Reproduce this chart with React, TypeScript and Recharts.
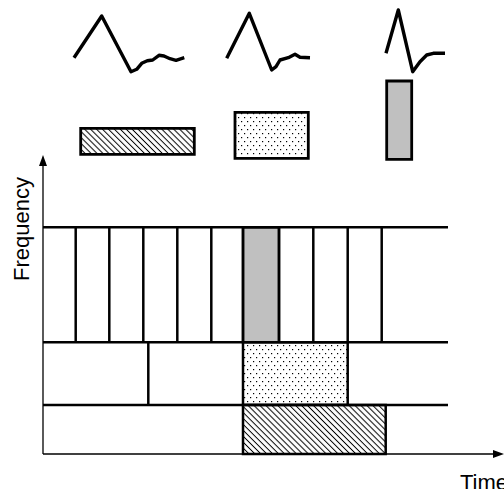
import React from "react";
import {
  ComposedChart,
  XAxis,
  YAxis,
  Line,
  ReferenceArea,
  ReferenceLine,
  ReferenceDot,
} from "recharts";

// Time / frequency units (1 unit ~ 1px), origin at the axes' corner
const timeDomain = [-43, 461];
const freqDomain = [-35, 454];

const axisTimeEnd = 461;
const axisFreqEnd = 299;

const bandLevels = [49, 111.7, 226.7];
const bandTimeEnd = 405;

const topBandEdges = [32.7, 66.3, 100.3, 134.3, 168.3, 200, 236, 270.3, 304.7, 338.7];
const midBandEdges = [105.3];

const tiles = [
  { t1: 200, t2: 236, f1: 111.7, f2: 226.7, fill: "#c0c0c0" },
  { t1: 200, t2: 304.7, f1: 49, f2: 111.7, fill: "url(#dots)" },
  { t1: 200, t2: 342.7, f1: 0, f2: 49, fill: "url(#hatch)" },
];

const atoms = [
  { t1: 37.7, t2: 151.3, f1: 299.7, f2: 325.7, fill: "url(#hatch)" },
  { t1: 192, t2: 265.3, f1: 295.7, f2: 341.7, fill: "url(#dots)" },
  { t1: 343.7, t2: 368.7, f1: 294.7, f2: 373, fill: "#c0c0c0" },
];

const wavelet1 = [
  { t: 31, f: 396.3 }, { t: 58.7, f: 438 }, { t: 88, f: 382.3 }, { t: 93.7, f: 384.7 },
  { t: 98.7, f: 390.7 }, { t: 104.3, f: 393.3 }, { t: 109.7, f: 394 }, { t: 116, f: 398.7 },
  { t: 121, f: 398 }, { t: 127, f: 395.3 }, { t: 133, f: 393.7 }, { t: 141.3, f: 396.3 },
];
const wavelet2 = [
  { t: 183.7, f: 395.7 }, { t: 206.3, f: 440.7 }, { t: 228.7, f: 384 }, { t: 233, f: 387.3 },
  { t: 237, f: 394 }, { t: 245.3, f: 396.3 }, { t: 252, f: 399.7 }, { t: 257, f: 396.7 },
  { t: 267, f: 396.3 },
];
const wavelet3 = [
  { t: 343, f: 400.7 }, { t: 355.3, f: 444 }, { t: 369.7, f: 382.3 }, { t: 377, f: 392.3 },
  { t: 383.7, f: 399 }, { t: 390.3, f: 400.7 }, { t: 402, f: 400.7 },
];

const FONT = "'Liberation Sans', Arial, sans-serif";

export default function App() {
  const gridLine = { stroke: "#000", strokeWidth: 2.5, ifOverflow: "visible" as const };
  return (
    <div style={{ position: "absolute", left: 0, top: 0 }}>
      <ComposedChart width={504} height={489} margin={{ top: 0, right: 0, bottom: 0, left: 0 }}>
        <defs>
          <pattern id="hatch" patternUnits="userSpaceOnUse" width="4.2" height="4.2" patternTransform="rotate(-45)">
            <rect x="0" y="0" width="4.2" height="4.2" fill="#fff" />
            <line x1="2.1" y1="0" x2="2.1" y2="4.2" stroke="#000" strokeWidth="1" />
          </pattern>
          <pattern id="dots" patternUnits="userSpaceOnUse" width="6" height="8">
            <rect x="0" y="0" width="6" height="8" fill="#fff" />
            <rect x="1" y="1" width="1.2" height="1.2" fill="#000" />
            <rect x="4" y="5" width="1.2" height="1.2" fill="#000" />
          </pattern>
        </defs>
        <XAxis type="number" dataKey="t" domain={timeDomain} hide allowDataOverflow />
        <YAxis type="number" dataKey="f" domain={freqDomain} hide allowDataOverflow />

        {/* axes */}
        <ReferenceLine segment={[{ x: 0, y: 0 }, { x: 0, y: axisFreqEnd - 4 }]} stroke="#000" strokeWidth={1.3} ifOverflow="visible" />
        <ReferenceLine segment={[{ x: 0, y: 0 }, { x: axisTimeEnd - 4, y: 0 }]} stroke="#000" strokeWidth={1.3} ifOverflow="visible" />
        <ReferenceDot
          x={0}
          y={axisFreqEnd}
          ifOverflow="visible"
          shape={(p: any) => <path d={`M${p.cx},${p.cy} l-4,11 l8,0 z`} fill="#000" />}
        />
        <ReferenceDot
          x={axisTimeEnd}
          y={0}
          ifOverflow="visible"
          shape={(p: any) => <path d={`M${p.cx},${p.cy} l-11,-4 l0,8 z`} fill="#000" />}
        />

        {/* tiles */}
        {tiles.map((a, i) => (
          <ReferenceArea key={"tile" + i} x1={a.t1} x2={a.t2} y1={a.f1} y2={a.f2} fill={a.fill} fillOpacity={1} stroke="#000" strokeWidth={2.5} ifOverflow="visible" />
        ))}

        {/* band lines */}
        {bandLevels.map((f, i) => (
          <ReferenceLine key={"band" + i} segment={[{ x: 0, y: f }, { x: bandTimeEnd, y: f }]} {...gridLine} />
        ))}
        {topBandEdges.map((t, i) => (
          <ReferenceLine key={"tb" + i} segment={[{ x: t, y: bandLevels[1] }, { x: t, y: bandLevels[2] }]} {...gridLine} />
        ))}
        {midBandEdges.map((t, i) => (
          <ReferenceLine key={"mb" + i} segment={[{ x: t, y: bandLevels[0] }, { x: t, y: bandLevels[1] }]} {...gridLine} />
        ))}

        {/* atoms */}
        {atoms.map((a, i) => (
          <ReferenceArea key={"atom" + i} x1={a.t1} x2={a.t2} y1={a.f1} y2={a.f2} fill={a.fill} fillOpacity={1} stroke="#000" strokeWidth={2.8} ifOverflow="visible" />
        ))}

        {/* wavelets */}
        {[wavelet1, wavelet2, wavelet3].map((w, i) => (
          <Line
            key={"w" + i}
            data={w}
            dataKey="f"
            type="linear"
            stroke="#000"
            strokeWidth={3.4}
            strokeLinejoin="round"
            dot={false}
            activeDot={false}
            isAnimationActive={false}
          />
        ))}

        <text x={29} y={229} transform="rotate(-90 29 229)" textAnchor="middle" fontFamily={FONT} fontSize={22} fill="#000">
          Frequency
        </text>
        <text x={460} y={489.5} fontFamily={FONT} fontSize={22} fill="#000">
          Time
        </text>
      </ComposedChart>
    </div>
  );
}
